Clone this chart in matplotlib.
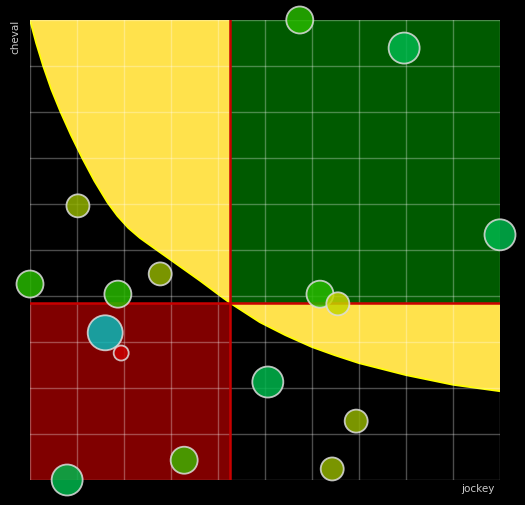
import matplotlib
matplotlib.use("Agg")
import matplotlib.pyplot as plt

# quadrant split (jockey / cheval)
split_x = 4.255
split_y = 3.85

# iso curve
curve_x = [0.0, 0.13, 0.28, 0.45, 0.65, 0.87, 1.11, 1.37, 1.65, 1.86, 2.09, 2.34, 2.6, 3.0, 3.62, 4.0, 4.255,
           4.89, 5.43, 6.0, 6.49, 7.0, 8.0, 9.0, 10.0]
curve_y = [10.0, 9.5, 9.0, 8.5, 8.0, 7.5, 7.0, 6.5, 6.03, 5.74, 5.48, 5.26, 5.07, 4.78, 4.33, 4.04, 3.85,
           3.43, 3.15, 2.89, 2.71, 2.54, 2.28, 2.07, 1.93]

# bubbles
jockey = [5.74, 7.96, 10.0, 1.02, 0.0, 1.87, 2.77, 1.60, 1.94, 3.28, 0.79, 5.06, 6.17, 6.55, 6.94, 6.43]
cheval = [10.0, 9.39, 5.33, 5.96, 4.26, 4.04, 4.48, 3.20, 2.76, 0.43, 0.0, 2.13, 4.04, 3.83, 1.28, 0.24]
radius = [14, 16, 16, 12, 14, 14, 12, 18, 8, 14, 16, 16, 14, 12, 12, 12]
colors = ["#28b800", "#00b64c", "#00b64c", "#90b000", "#28b800", "#28b800", "#90b000", "#08baba",
          "#c80000", "#40b200", "#00b64c", "#00b64c", "#28b800", "#c4d400", "#90b000", "#90b000"]

fig = plt.figure(figsize=(5.25, 5.05), dpi=100, facecolor="black")
ax = fig.add_axes([30 / 525, 25 / 505, 470 / 525, 460 / 505], facecolor="black")
ax.set_xlim(0, 10)
ax.set_ylim(0, 10)

# quadrants
ax.fill_between([split_x, 10], split_y, 10, color="#005a00", lw=0, zorder=1)
ax.fill_between([0, split_x], 0, split_y, color="#800000", lw=0, zorder=1)

# yellow zone between curve and split lines
poly_x = curve_x + [10, split_x, split_x]
poly_y = curve_y + [split_y, split_y, 10]
ax.fill(poly_x, poly_y, color="#ffe24c", lw=0, zorder=1)
ax.plot(curve_x, curve_y, color="#ffff00", lw=1.3, zorder=2)

# grid on top of the fills
for v in range(11):
    ax.axvline(v, color="white", alpha=0.3, lw=1, zorder=2.5)
    ax.axhline(v, color="white", alpha=0.3, lw=1, zorder=2.5)

ax.axvline(split_x, color="#c80000", lw=1.8, zorder=3)
ax.axhline(split_y, color="#c80000", lw=1.8, zorder=3)

sizes = [(2 * (r - 0.5) * 0.72) ** 2 for r in radius]
ax.scatter(jockey, cheval, s=sizes, c=colors, alpha=0.85, edgecolors="#dddddd",
           linewidths=1.3, zorder=5, clip_on=False)

ax.set_xticks([])
ax.set_yticks([])
for sp in ax.spines.values():
    sp.set_visible(False)

fig.text(495 / 525, 1 - 489 / 505, "jockey", color="#cccccc", fontsize=7.5,
         ha="right", va="center")
fig.text(15 / 525, 1 - 20 / 505, "cheval", color="#cccccc", fontsize=7.5,
         rotation=90, ha="center", va="top")

fig.savefig("out.png", dpi=100, facecolor="black")
